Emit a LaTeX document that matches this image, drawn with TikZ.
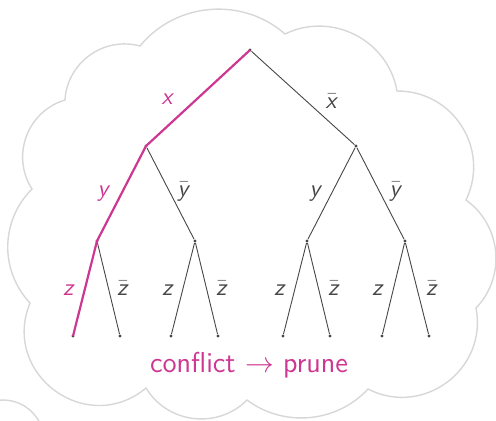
\documentclass[tikz,border=0pt]{standalone}
\usepackage{tikz}
\usetikzlibrary{positioning}
\definecolor{cPrune}{RGB}{205,55,145}
\definecolor{cEdge}{RGB}{70,70,70}
\definecolor{cCloud}{RGB}{215,215,215}
\newcommand{\lit}[1]{\textsf{\itshape #1}}
\newcommand{\nlit}[1]{$\bar{\mbox{\lit{#1}}}$}
\tikzset{
	cloudline/.style={draw=cCloud, line width=0.7pt},
	puff/.style 2 args={bend left=#1, looseness=#2},
	vtx/.style      ={circle, fill=cEdge, inner sep=0pt, minimum size=1.6pt},
	branch/.style   ={draw=cEdge, line width=0.45pt},
	prunepath/.style={draw=cPrune, line width=1.1pt},
	lbl/.style      ={anchor=base, inner sep=0pt, font=\large, text=cEdge},
	plbl/.style     ={lbl, text=cPrune},
}

\begin{document}
\begin{tikzpicture}[x=0.5pt, y=-0.5pt]
	\useasboundingbox (0,0) rectangle (496,420);
	\clip (0,0) rectangle (496,420);
	% thought bubble
	\draw[cloudline] (32,189) to[puff={53}{1.06}] (65,100) to[puff={51}{1.04}] (140,46)
		to[puff={46}{1.0}] (285,34) to[puff={53}{1.06}] (397,91) to[puff={58}{1.12}] (466,200)
		to[puff={49}{1.03}] (476,308) to[puff={64}{1.18}] (368,389) to[puff={42}{0.97}] (247,400)
		to[puff={52}{1.05}] (146,388) to[puff={76}{1.37}] (30,303) to[puff={44}{1.0}] cycle;
	\draw[cloudline] (3,441) circle (41);
	% search tree
	\node[vtx] (r) at (250,50) {};
	\node[vtx] (a) at (146,146) {};
	\node[vtx] (b) at (356,146) {};
	\node[vtx] (aa) at (97,241) {};
	\node[vtx] (ab) at (195,241) {};
	\node[vtx] (ba) at (307,241) {};
	\node[vtx] (bb) at (405,241) {};
	\node[vtx] (aaa) at (73,336) {};
	\node[vtx] (aab) at (120,336) {};
	\node[vtx] (aba) at (171,336) {};
	\node[vtx] (abb) at (218,336) {};
	\node[vtx] (baa) at (283,336) {};
	\node[vtx] (bab) at (330,336) {};
	\node[vtx] (bba) at (382,336) {};
	\node[vtx] (bbb) at (429,336) {};
	\draw[branch] (r) -- (b);
	\draw[branch] (a) -- (ab);
	\draw[branch] (b) -- (ba);
	\draw[branch] (b) -- (bb);
	\draw[branch] (aa) -- (aab);
	\draw[branch] (ab) -- (aba);
	\draw[branch] (ab) -- (abb);
	\draw[branch] (ba) -- (baa);
	\draw[branch] (ba) -- (bab);
	\draw[branch] (bb) -- (bba);
	\draw[branch] (bb) -- (bbb);
	% conflicting branch
	\draw[prunepath] (r.center) -- (a.center) -- (aa.center) -- (aaa.center);
	% literals
	\node[plbl] (lx) at (168,104) {\lit{x}};
	\node[lbl] (lnx) at (332,108) {\nlit{x}};
	\node[plbl] (ly) at (104,196) {\lit{y}};
	\node[lbl] (lny) at (184,196) {\nlit{y}};
	\node[lbl] (ly2) at (316,196) {\lit{y}};
	\node[lbl] (lny2) at (396,196) {\nlit{y}};
	\node[plbl] (lz) at (69,295) {\lit{z}};
	\node[lbl] (lnz) at (123,295) {\nlit{z}};
	\node[lbl] (lz2) at (168,295) {\lit{z}};
	\node[lbl] (lnz2) at (222,295) {\nlit{z}};
	\node[lbl] (lz3) at (280,295) {\lit{z}};
	\node[lbl] (lnz3) at (334,295) {\nlit{z}};
	\node[lbl] (lz4) at (378,295) {\lit{z}};
	\node[lbl] (lnz4) at (432,295) {\nlit{z}};
	\node[plbl, font=\Large] (verdict) at (249,372) {\textsf{conflict $\rightarrow$ prune}};
\end{tikzpicture}
\end{document}
